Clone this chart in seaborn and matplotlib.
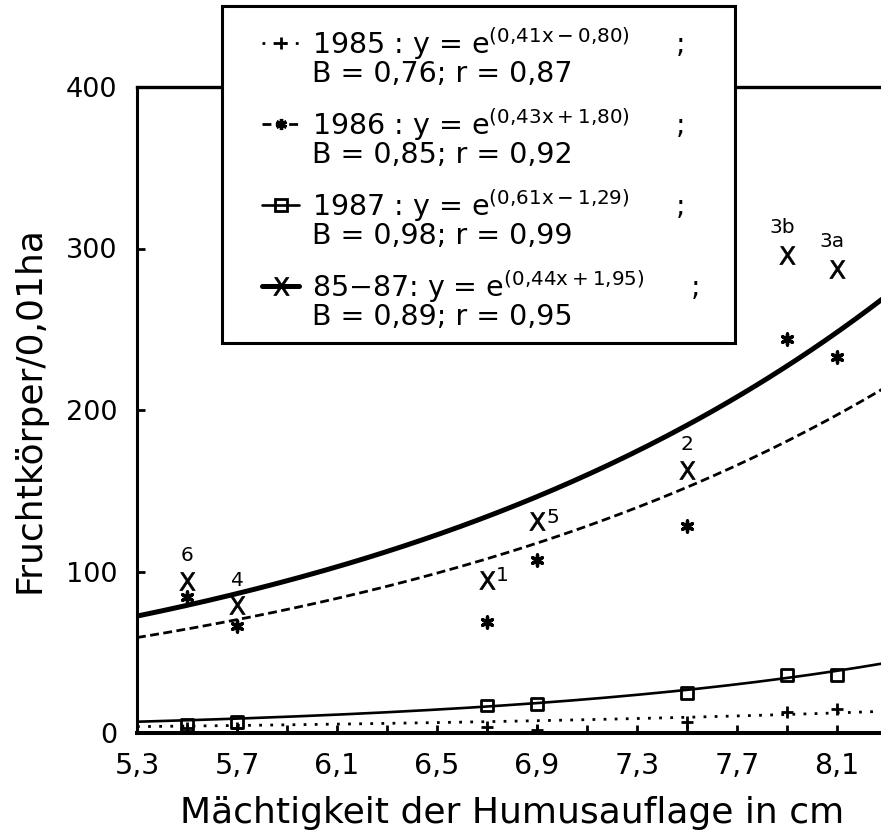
import numpy as np
import matplotlib
matplotlib.use("Agg")
import matplotlib.pyplot as plt
import seaborn as sns
from matplotlib.lines import Line2D
from matplotlib.patches import Rectangle
from matplotlib.legend_handler import HandlerLine2D

# ---------------- data ----------------
humus_cm = [5.5, 5.7, 6.7, 6.9, 7.5, 7.9, 8.1]
site_labels = ["6", "4", "1", "5", "2", "3b", "3a"]
y1985 = [3, 3, 4, 2, 7, 13, 15]
y1986 = [84, 66, 69, 107, 128, 244, 233]
y1987 = [5, 7, 17, 18, 25, 36, 36]
y8587 = [94, 79, 95, 131, 163, 296, 287]

series_names = ["1985 :", "1986 :", "1987 :", "85\u221287:"]
fit_slope = [0.41, 0.43, 0.61, 0.44]
fit_intercept = [-0.80, 1.80, -1.29, 1.95]
fit_B = ["0,76", "0,85", "0,98", "0,89"]
fit_r = ["0,87", "0,92", "0,99", "0,95"]

x_ticks = [5.3, 5.7, 6.1, 6.5, 6.9, 7.3, 7.7, 8.1]
x_ticklabels = ["5,3", "5,7", "6,1", "6,5", "6,9", "7,3", "7,7", "8,1"]
x_minor_ticks = [5.5, 5.9, 6.3, 6.7, 7.1, 7.5, 7.9]
y_ticks = [0, 100, 200, 300, 400]
y_ticklabels = ["0", "100", "200", "300", "400"]

# ---------------- style ----------------
sns.set_style("white")
plt.rcParams["font.family"] = ["DejaVu Sans"]
plt.rcParams["mathtext.fontset"] = "dejavusans"
for key in ["text.color", "axes.labelcolor", "xtick.color", "ytick.color",
            "axes.edgecolor"]:
    plt.rcParams[key] = "black"

W, H = 881, 831
fig = plt.figure(figsize=(W / 100, H / 100), dpi=100, facecolor="white")
ax = fig.add_axes([137 / W, 98 / H, 750 / W, 646 / H])
ax.set_facecolor("white")

line_styles = [
    dict(lw=2.0, ls=(0, (1.0, 3.0))),        # 1985 dotted
    dict(lw=2.0, ls=(0, (3.2, 1.6))),        # 1986 dashed
    dict(lw=1.9, ls="-"),                    # 1987 solid
    dict(lw=3.6, ls="-"),                    # 85-87 thick
]

# fitted curves y = exp(a*x + b), coefficients from the legend
xs = np.linspace(5.3, 8.3, 161)
for a, b, st in zip(fit_slope, fit_intercept, line_styles):
    sns.lineplot(x=xs, y=np.exp(a * xs + b), ax=ax, color="black",
                 linewidth=st["lw"], linestyle=st["ls"], errorbar=None,
                 zorder=2)

# observed points
sns.scatterplot(x=humus_cm, y=y1985, ax=ax, marker="+", s=9 ** 2,
                color="black", linewidth=2.0, zorder=3)
sns.scatterplot(x=humus_cm, y=y1986, ax=ax, marker=(6, 2, 0), s=8 ** 2,
                color="black", linewidth=2.4, zorder=3)
sns.scatterplot(x=humus_cm, y=y1987, ax=ax, marker="s", s=8.5 ** 2,
                facecolor="none", edgecolor="black", linewidth=2.0, zorder=3)
sns.scatterplot(x=humus_cm, y=y8587, ax=ax, marker=r"$\mathsf{X}$", s=13 ** 2,
                color="black", edgecolor="black", linewidth=0.5, zorder=3)

# site labels next to the 85-87 points
label_offsets = [(0, 18.5), (0, 18), (6.5, 3), (6.5, 3), (0, 18), (-3.5, 20), (-3.5, 20)]
for xv, yv, lab, off in zip(humus_cm, y8587, site_labels, label_offsets):
    ax.annotate(lab, (xv, yv), xytext=off, textcoords="offset points",
                ha="left" if off[0] > 0 else "center", va="center",
                fontsize=14.5)

# axes
ax.set_xlim(5.3, 8.3)
ax.set_ylim(0, 400)
ax.set_xticks(x_ticks)
ax.set_xticklabels(x_ticklabels)
ax.set_xticks(x_minor_ticks, minor=True)
ax.set_yticks(y_ticks)
ax.set_yticklabels(y_ticklabels)
ax.tick_params(axis="both", which="both", direction="in", length=6,
               width=2, colors="black", top=False, right=False,
               bottom=True, left=True)
ax.tick_params(axis="x", which="major", labelsize=20.5, pad=14)
ax.tick_params(axis="y", which="major", labelsize=19.5, pad=14)
for side, lw in [("left", 2.2), ("bottom", 2.9), ("top", 2.4)]:
    ax.spines[side].set_visible(True)
    ax.spines[side].set_linewidth(lw)
    ax.spines[side].set_color("black")
ax.spines["right"].set_visible(False)

ax.set_xlabel("Mächtigkeit der Humusauflage in cm", fontsize=26)
ax.set_ylabel("Fruchtkörper/0,01ha", fontsize=26)
ax.xaxis.set_label_coords(0.5, -0.097)
ax.yaxis.set_label_coords(-0.121, 0.5)


# ---------------- legend ----------------
def fmt(v):
    return f"{abs(v):.2f}".replace(".", "{,}")


labels = []
for name, a, b, B, r in zip(series_names, fit_slope, fit_intercept, fit_B, fit_r):
    sign = "-" if b < 0 else "+"
    expo = r"$^{\mathregular{(" + fmt(a) + "x" + sign + fmt(b) + ")}}$"
    labels.append(f"{name} y = e{expo}     ;\nB = {B}; r = {r}")

markers = [dict(marker="+", ms=9, mew=2.0, mfc="black"),
           dict(marker=(6, 2, 0), ms=8, mew=2.4, mfc="black"),
           dict(marker="s", ms=8.5, mew=2.0, mfc="none"),
           dict(marker=r"$\mathsf{X}$", ms=13, mew=0.5, mfc="black")]
handles = [Line2D([], [], color="black", linewidth=st["lw"], linestyle=st["ls"],
                  mec="black", **mk) for st, mk in zip(line_styles, markers)]


class RaisedLineHandler(HandlerLine2D):
    def __init__(self, dy, **kw):
        super().__init__(**kw)
        self.dy = dy

    def create_artists(self, legend, orig_handle, xdescent, ydescent,
                       width, height, fontsize, trans):
        arts = super().create_artists(legend, orig_handle, xdescent, ydescent,
                                      width, height, fontsize, trans)
        for art in arts:
            art.set_ydata(np.asarray(art.get_ydata()) + self.dy * fontsize)
        return arts


leg = ax.legend(handles, labels, loc="upper left",
                bbox_to_anchor=(262 / W, 1 - 25 / H),
                bbox_transform=fig.transFigure, frameon=False,
                borderpad=0, borderaxespad=0, handlelength=1.3,
                handletextpad=0.45, labelspacing=0.63, fontsize=20.5,
                handler_map={Line2D: RaisedLineHandler(0.52)})
for t in leg.get_texts():
    t.set_linespacing(0.93)
    t.set_color("black")
leg.set_zorder(6)

box = Rectangle((222 / W, 1 - 343 / H), 513 / W, 337 / H,
                transform=fig.transFigure, facecolor="white",
                edgecolor="black", linewidth=2.2, zorder=5, clip_on=False)
ax.add_artist(box)

fig.savefig("out.png", dpi=100, facecolor="white")
